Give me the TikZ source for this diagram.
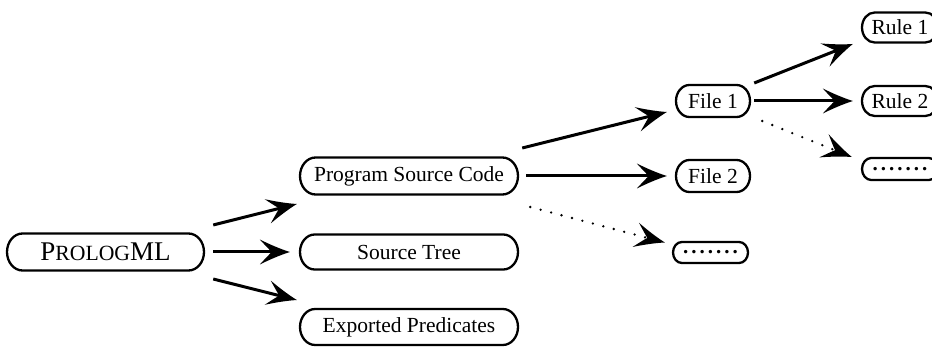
\documentclass[tikz,border=0pt]{standalone}
\usepackage{fontspec}
\setmainfont{Liberation Serif}
\usetikzlibrary{arrows.meta,calc}

% arrow head with swept, slightly concave barbs
\pgfdeclarearrow{
  name = Barb,
  setup code = {
    \pgfarrowssettipend{0pt}
    \pgfarrowssetlineend{-16pt}
    \pgfarrowssetvisualbackend{-30pt}
    \pgfarrowssetbackend{-30pt}
    \pgfarrowshullpoint{0pt}{0pt}
    \pgfarrowshullpoint{-30pt}{12.5pt}
    \pgfarrowshullpoint{-30pt}{-12.5pt}
  },
  drawing code = {
    \pgfpathmoveto{\pgfqpoint{0pt}{0pt}}
    \pgfpathcurveto{\pgfqpoint{-10pt}{3.2pt}}{\pgfqpoint{-21pt}{8pt}}{\pgfqpoint{-30pt}{12.5pt}}
    \pgfpathcurveto{\pgfqpoint{-24pt}{6pt}}{\pgfqpoint{-20pt}{1.8pt}}{\pgfqpoint{-18pt}{0pt}}
    \pgfpathcurveto{\pgfqpoint{-20pt}{-1.8pt}}{\pgfqpoint{-24pt}{-6pt}}{\pgfqpoint{-30pt}{-12.5pt}}
    \pgfpathcurveto{\pgfqpoint{-21pt}{-8pt}}{\pgfqpoint{-10pt}{-3.2pt}}{\pgfqpoint{0pt}{0pt}}
    \pgfpathclose
    \pgfusepathqfill
  },
  parameters = {}
}

\tikzset{
  pilltext/.style={inner sep=0pt, font=\fontsize{21.5}{24}\selectfont},
  pillline/.style={line width=2.3pt},
  link/.style={line width=3pt, -Barb},
  dotlink/.style={line width=2.6pt, -Barb, line cap=round, dash pattern=on 0pt off 10.8pt},
  dotfill/.style={font=\fontsize{21}{24}\selectfont\bfseries},
}
\newcommand{\dotrow}{.\kern3pt.\kern3pt.\kern3pt.\kern3pt.\kern3pt.\kern3pt.}

% \pillnode{name}{position}{width}{height}{extra style}{text}
% a text node framed by a bar with half-elliptic ends
\newcommand{\pillnode}[6]{%
  \node[pilltext, minimum width=#3pt, minimum height=#4pt, #5] (#1) at (#2) {#6};
  \draw[pillline, shift={(#1.center)}]
    ({-#3/2+0.42*#4},{-#4/2}) -- ({#3/2-0.42*#4},{-#4/2})
    arc[start angle=-90, end angle=90, x radius={0.42*#4}, y radius={#4/2}]
    -- ({-#3/2+0.42*#4},{#4/2})
    arc[start angle=90, end angle=270, x radius={0.42*#4}, y radius={#4/2}]
    -- cycle;
}

\begin{document}
\begin{tikzpicture}[x=1pt, y=-1pt]
\useasboundingbox (0,0) rectangle (932,347);
\clip (0,0) rectangle (932,347);

% root
\pillnode{pml}{105.5,252}{197}{37}{}%
  {\fontsize{27}{30}\selectfont P{\fontsize{21.7}{24}\selectfont ROLOG}ML}

% first level
\pillnode{psc}{409,176}{218}{37}{}{Program Source Code}
\pillnode{st}{409,252}{218}{35}{}{Source Tree}
\pillnode{ep}{409,327}{218}{36}{}{Exported Predicates}

% second level
\pillnode{f1}{713,101}{74}{32}{}{File 1}
\pillnode{f2}{713,176}{74}{32}{}{File 2}
\pillnode{fd}{710.5,252.5}{75}{21}{dotfill}{\dotrow}

% third level
\pillnode{r1}{900,27.5}{76}{30}{}{Rule 1}
\pillnode{r2}{900,101}{76}{30}{}{Rule 2}
\pillnode{rd}{900,169}{76}{22}{dotfill}{\dotrow}

% connectors
\draw[link] ($(pml.east)+(9,-27)$) -- ($(psc.west)+(-3,28)$);
\draw[link] ($(pml.east)+(9,0)$)   -- ($(st.west)+(-10,0)$);
\draw[link] ($(pml.east)+(9,27)$)  -- ($(ep.west)+(-3,-27)$);

\draw[link] ($(psc.east)+(4,-28)$) -- ($(f1.west)+(-9,11)$);
\draw[link] ($(psc.east)+(8,0)$)   -- ($(f2.west)+(-9,0)$);
\draw[dotlink] ($(psc.east)+(12,31)$) -- ($(fd.west)+(-8,-10)$);

\draw[link] ($(f1.east)+(4,-18)$) -- ($(r1.west)+(-9,16.5)$);
\draw[link] ($(f1.east)+(4,0)$)   -- ($(r2.west)+(-9,0)$);
\draw[dotlink] ($(f1.east)+(12,20)$) -- ($(rd.west)+(-10,-12)$);
\end{tikzpicture}
\end{document}
